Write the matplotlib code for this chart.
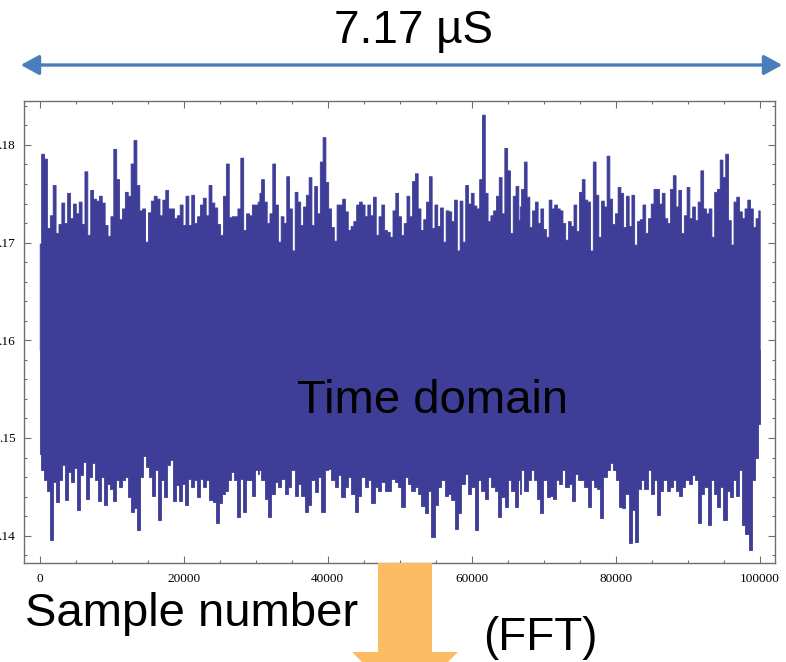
import numpy as np
import matplotlib
matplotlib.use("Agg")
import matplotlib.pyplot as plt
from matplotlib.ticker import MultipleLocator, FuncFormatter
from matplotlib.patches import FancyArrowPatch, Polygon

# ---------------- data ----------------
n_samples = 100000
# upper spike envelope, three stretches of the record
upper_a = [0.1699,0.1791,0.1786,0.1715,0.1728,0.1759,0.1710,0.1719,0.1741,0.1720,0.1751,0.1725,0.1740,0.1730,0.1742,0.1719,0.1773,0.1708,0.1754,0.1745,0.1743,0.1748,0.1741,0.1718,0.1707,0.1727,0.1796,0.1765,0.1724,0.1735,0.1752,0.1748,0.1781,0.1805,0.1759,0.1733,0.1735,0.1701,0.1731,0.1743,0.1748,0.1745,0.1728,0.1744,0.1754,0.1735,0.1735,0.1725,0.1728,0.1739,0.1718,0.1748,0.1718,0.1749,0.1720,0.1727,0.1739,0.1746,0.1728,0.1759,0.1741,0.1736,0.1719,0.1708,0.1748,0.1781,0.1726,0.1727,0.1727,0.1735,0.1787,0.1713,0.1730,0.1728,0.1739,0.1739,0.1742]
upper_b = [0.1751,0.1765,0.1742,0.1720,0.1730,0.1781,0.1739,0.1701,0.1727,0.1720,0.1768,0.1735,0.1692,0.1752,0.1742,0.1718,0.1737,0.1749,0.1767,0.1718,0.1758,0.1730,0.1783,0.1808,0.1762,0.1735,0.1716,0.1702,0.1739,0.1739,0.1745,0.1732,0.1713,0.1717,0.1722,0.1739,0.1742,0.1739,0.1727,0.1739,0.1728,0.1747,0.1708,0.1727,0.1739,0.1713,0.1711,0.1706,0.1733,0.1751,0.1727,0.1708,0.1720,0.1748,0.1727,0.1763,0.1771,0.1735,0.1713,0.1724,0.1742,0.1768,0.1715,0.1739,0.1717,0.1736,0.1701,0.1733,0.1732,0.1722,0.1744,0.1692,0.1743,0.1701,0.1759,0.1740,0.1751,0.1738,0.1735,0.1765,0.1831,0.1751,0.1722,0.1728,0.1733,0.1748,0.1767,0.1730,0.1797,0.1774,0.1710,0.1748,0.1758,0.1723]
upper_c = [0.1737,0.1755,0.1783,0.1747,0.1716,0.1733,0.1742,0.1720,0.1735,0.1714,0.1706,0.1744,0.1735,0.1739,0.1735,0.1733,0.1720,0.1703,0.1722,0.1717,0.1739,0.1712,0.1752,0.1765,0.1744,0.1742,0.1692,0.1783,0.1749,0.1706,0.1743,0.1737,0.1789,0.1745,0.1719,0.1730,0.1757,0.1751,0.1716,0.1748,0.1717,0.1749,0.1698,0.1722,0.1724,0.1739,0.1710,0.1725,0.1740,0.1755,0.1755,0.1740,0.1751,0.1725,0.1720,0.1755,0.1769,0.1737,0.1754,0.1710,0.1728,0.1757,0.1725,0.1737,0.1723,0.1742,0.1774,0.1735,0.1730,0.1735,0.1706,0.1752,0.1755,0.1785,0.1767,0.1791,0.1723,0.1698,0.1742,0.1747,0.1732,0.1725,0.1735,0.1744,0.1735,0.1716,0.1725,0.1733]
# lower spike envelope
lower_a = [0.1484,0.1467,0.1457,0.1446,0.1396,0.1455,0.1434,0.1457,0.1472,0.1436,0.1465,0.1455,0.1469,0.1426,0.1462,0.1475,0.1438,0.1460,0.1474,0.1457,0.1435,0.1460,0.1431,0.1453,0.1448,0.1435,0.1457,0.1450,0.1457,0.1460,0.1440,0.1424,0.1428,0.1406,0.1460,0.1482,0.1470,0.1460,0.1441,0.1467,0.1416,0.1457,0.1440,0.1472,0.1477,0.1435,0.1452,0.1435,0.1453,0.1431,0.1458,0.1450,0.1457,0.1440,0.1458,0.1450,0.1457,0.1436,0.1434,0.1413,0.1433,0.1443,0.1446,0.1457,0.1465,0.1457,0.1419,0.1458,0.1424,0.1457,0.1457,0.1441,0.1467,0.1463]
lower_b = [0.1467,0.1457,0.1438,0.1419,0.1443,0.1455,0.1450,0.1458,0.1443,0.1450,0.1467,0.1441,0.1453,0.1441,0.1424,0.1431,0.1457,0.1445,0.1460,0.1424,0.1467,0.1468,0.1457,0.1450,0.1462,0.1440,0.1450,0.1460,0.1443,0.1424,0.1441,0.1460,0.1450,0.1457,0.1433,0.1450,0.1446,0.1455,0.1446,0.1446,0.1458,0.1455,0.1450,0.1429,0.1460,0.1453,0.1446,0.1450,0.1443,0.1430,0.1423,0.1446,0.1399,0.1431,0.1450,0.1457,0.1441,0.1443,0.1436,0.1407,0.1423,0.1453,0.1463,0.1443,0.1450,0.1406,0.1457,0.1446,0.1438,0.1460,0.1450,0.1446,0.1419,0.1440,0.1429,0.1457,0.1446,0.1429,0.1457]
lower_c = [0.1443,0.1467,0.1446,0.1457,0.1467,0.1457,0.1438,0.1423,0.1457,0.1440,0.1441,0.1438,0.1457,0.1453,0.1467,0.1450,0.1453,0.1435,0.1463,0.1457,0.1457,0.1450,0.1429,0.1457,0.1450,0.1448,0.1418,0.1460,0.1467,0.1474,0.1467,0.1457,0.1429,0.1428,0.1443,0.1392,0.1426,0.1394,0.1448,0.1457,0.1448,0.1467,0.1443,0.1457,0.1421,0.1446,0.1457,0.1446,0.1450,0.1457,0.1446,0.1441,0.1450,0.1457,0.1453,0.1462,0.1457,0.1413,0.1443,0.1450,0.1411,0.1457,0.1443,0.1429,0.1450,0.1416,0.1446,0.1440,0.1457,0.1441,0.1467,0.1411,0.1402,0.1385,0.1457,0.1480,0.1514]
# sample ranges covered by each stretch
stretch_a = (0, 30470)
stretch_b = (30556, 66670)
stretch_c = (66667, 100000)
# middle of the noise band (inside the solid part)
band_mid = 0.1590

x_ticks = [0, 20000, 40000, 60000, 80000, 100000]
y_ticks = [0.14, 0.15, 0.16, 0.17, 0.18]

title_text = "7.17 µS"
label_time = "Time domain"
label_x = "Sample number"
label_fft = "(FFT)"

# ---------------- figure ----------------
W, H = 786, 662
fig = plt.figure(figsize=(W / 100, H / 100), dpi=100)
fig.patch.set_facecolor("white")

def fx(px):
    return px / W

def fy(py):
    return 1 - py / H

ax_left, ax_right, ax_top, ax_bottom = 24.3, 775, 101, 563
ax = fig.add_axes([fx(ax_left), fy(ax_bottom), (ax_right - ax_left) / W, (ax_bottom - ax_top) / H])

blue = "#3e3d97"

def positions(vals, span):
    return np.linspace(span[0], span[1], len(vals))

xu = np.concatenate([positions(upper_a, stretch_a), positions(upper_b, stretch_b), positions(upper_c, stretch_c)])
yu = np.concatenate([upper_a, upper_b, upper_c])
xl = np.concatenate([positions(lower_a, stretch_a), positions(lower_b, stretch_b), positions(lower_c, stretch_c)])
yl = np.concatenate([lower_a, lower_b, lower_c])

ax.fill_between(xu, band_mid, yu, step="mid", color=blue, linewidth=0.6, edgecolor=blue)
ax.fill_between(xl, yl, band_mid, step="mid", color=blue, linewidth=0.6, edgecolor=blue)

ax.set_xlim(-2139, 102125)
ax.set_ylim(0.1372, 0.1845)

ax.set_xticks(x_ticks)
ax.set_yticks(y_ticks)
ax.xaxis.set_minor_locator(MultipleLocator(5000))
ax.yaxis.set_minor_locator(MultipleLocator(0.002))
ax.yaxis.set_major_formatter(FuncFormatter(lambda v, p: f"{v:.2f}"[1:]))
ax.xaxis.set_major_formatter(FuncFormatter(lambda v, p: f"{int(round(v))}"))

spine_col = "#6e6e6e"
for s in ax.spines.values():
    s.set_color(spine_col)
    s.set_linewidth(1.0)
ax.tick_params(which="both", direction="in", top=True, right=True, color=spine_col)
ax.tick_params(which="major", length=4.8, width=0.8)
ax.tick_params(which="minor", length=2.4, width=0.8)
for lab in ax.get_xticklabels() + ax.get_yticklabels():
    lab.set_fontfamily("Liberation Serif")
    lab.set_fontsize(9.5)
ax.tick_params(axis="x", pad=7)
ax.tick_params(axis="y", pad=6.5)

# ---------------- annotations ----------------
sans = "Liberation Sans"
fig.text(fx(414), fy(43), title_text, ha="center", va="baseline", fontsize=33, family=sans, color="black")
arr = FancyArrowPatch((fx(18), fy(65)), (fx(785), fy(65)), transform=fig.transFigure,
                      arrowstyle="<|-|>,head_length=11,head_width=6", mutation_scale=1,
                      color="#4a7ebb", linewidth=2.4)
fig.patches.append(arr)

fig.text(fx(296.7), fy(413.3), label_time, ha="left", va="baseline", fontsize=34, family=sans, color="black", zorder=5)
fig.text(fx(25), fy(626), label_x, ha="left", va="baseline", fontsize=34, family=sans, color="black")
fig.text(fx(482.7), fy(650), label_fft, ha="left", va="baseline", fontsize=33, family=sans, color="black")

orange = "#fdbb63"
pts = [(378, 563), (432, 563), (432, 652), (458, 652), (405, 705), (352, 652), (378, 652)]
poly = Polygon([(fx(x), fy(y)) for x, y in pts], closed=True, transform=fig.transFigure,
               facecolor=orange, edgecolor="none", zorder=4)
fig.patches.append(poly)

fig.savefig("out.png", dpi=100)
